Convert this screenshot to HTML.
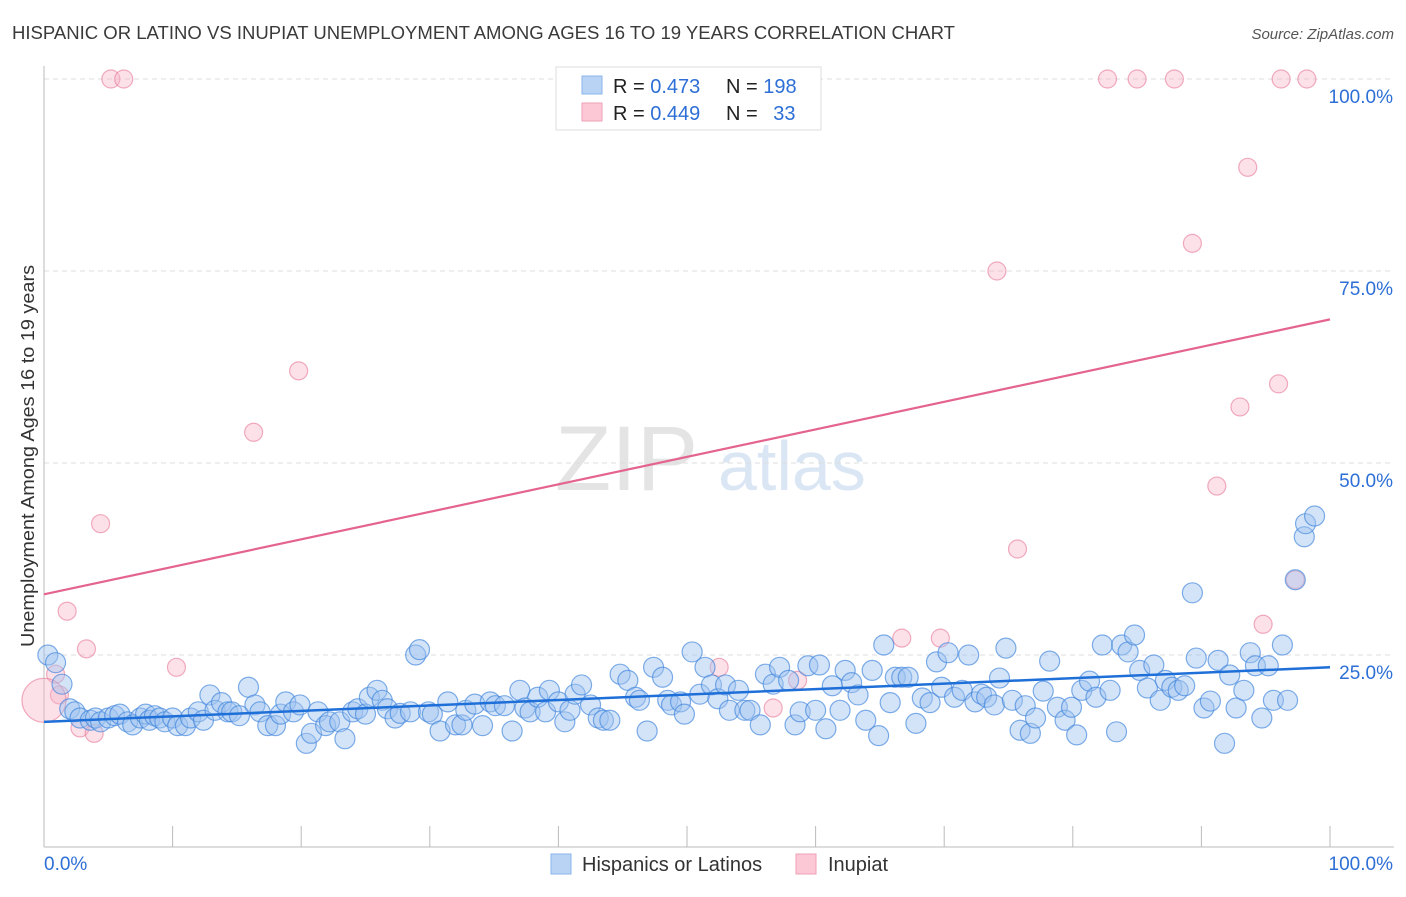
<!DOCTYPE html>
<html><head><meta charset="utf-8"><style>
body{margin:0;background:#fff;font-family:"Liberation Sans",sans-serif;}
svg text{font-family:"Liberation Sans",sans-serif;}
</style></head><body>
<svg id="chart" width="1406" height="892" xmlns="http://www.w3.org/2000/svg">
<text x="12" y="39" font-size="18" fill="#3a3a3a" textLength="943" lengthAdjust="spacingAndGlyphs">HISPANIC OR LATINO VS INUPIAT UNEMPLOYMENT AMONG AGES 16 TO 19 YEARS CORRELATION CHART</text>
<text x="1394" y="39" font-size="15" fill="#555" text-anchor="end" font-style="italic">Source: ZipAtlas.com</text>
<g><text x="555" y="490" font-size="92" fill="#e4e4e4" font-family="Liberation Serif">ZIP</text><text x="718" y="490" font-size="70" fill="#dbe6f5">atlas</text></g>
<g id="grid"></g><g id="axes"></g><g id="pts"></g><g id="lines"></g>
<text transform="translate(34,456) rotate(-90)" font-size="18" fill="#333" text-anchor="middle" textLength="382" lengthAdjust="spacingAndGlyphs">Unemployment Among Ages 16 to 19 years</text>
<g>
<rect x="556" y="67" width="265" height="63" fill="#fff" stroke="#ddd"/>
<rect x="582" y="76" width="20" height="18" fill="#b9d3f5" stroke="#8ab4ea"/>
<rect x="582" y="103" width="20" height="18" fill="#fcc8d6" stroke="#f0a0b6"/>
<text x="613" y="93" font-size="20" fill="#222">R = <tspan fill="#2d6fd6">0.473</tspan></text>
<text x="726" y="93" font-size="20" fill="#222">N = <tspan fill="#2d6fd6">198</tspan></text>
<text x="613" y="120" font-size="20" fill="#222">R = <tspan fill="#2d6fd6">0.449</tspan></text>
<text x="726" y="120" font-size="20" fill="#222">N = <tspan fill="#2d6fd6" dx="10">33</tspan></text>
</g>
<g>
<rect x="551" y="854" width="20" height="20" fill="#b9d3f5" stroke="#8ab4ea"/>
<text x="582" y="871" font-size="20" fill="#333">Hispanics or Latinos</text>
<rect x="796" y="854" width="20" height="20" fill="#fcc8d6" stroke="#f0a0b6"/>
<text x="828" y="871" font-size="20" fill="#333">Inupiat</text>
</g>
</svg>
<script>
const yTicks=[25,50,75,100];
const yTickLabels=["25.0%","50.0%","75.0%","100.0%"];
const blueX=[0.3,0.9,1.4,2.0,2.4,2.8,3.6,4.0,4.4,5.0,5.5,5.9,6.5,6.9,7.5,7.9,8.2,8.6,9.0,9.4,10.0,10.4,11.0,11.4,12.0,12.4,12.9,13.3,13.8,14.3,14.6,15.2,15.9,16.4,16.8,17.4,18.0,18.4,18.8,19.4,19.9,20.4,20.8,21.3,21.9,22.2,23.0,23.4,24.0,24.4,25.0,25.3,25.9,26.3,26.7,27.3,27.7,28.5,28.9,29.2,29.9,30.2,30.8,31.4,32.0,32.5,32.8,33.5,34.1,34.7,35.1,35.8,36.4,37.0,37.4,37.8,38.4,39.0,39.3,40.0,40.5,40.9,41.3,41.8,42.5,43.1,43.5,44.0,44.8,45.4,46.0,46.3,46.9,47.4,48.1,48.5,48.8,49.5,49.8,50.4,51.0,51.4,51.9,52.4,53.0,53.3,54.0,54.5,54.9,55.7,56.1,56.7,57.2,57.9,58.4,58.8,59.4,60.0,60.3,60.8,61.3,61.9,62.3,62.8,63.3,63.9,64.4,64.9,65.3,65.8,66.2,66.7,67.2,67.8,68.3,68.9,69.4,69.8,70.3,70.8,71.4,71.9,72.4,72.9,73.3,73.9,74.3,74.8,75.3,75.9,76.3,76.7,77.1,77.7,78.2,78.8,79.4,79.9,80.3,80.7,81.3,81.8,82.3,82.9,83.4,83.8,84.3,84.8,85.2,85.8,86.3,86.8,87.2,87.7,88.2,88.7,89.3,89.6,90.2,90.7,91.3,91.8,92.2,92.7,93.3,93.8,94.2,94.7,95.2,95.6,96.3,96.7,97.3,98.0,98.1,98.8];
const blueY=[25.0,24.0,21.2,18.0,17.6,16.8,16.5,16.8,16.3,16.8,17.1,17.3,16.3,15.9,16.8,17.3,16.5,17.1,16.8,16.3,16.8,15.8,15.8,16.8,17.6,16.5,19.8,17.8,18.8,17.6,17.6,17.1,20.8,18.5,17.6,15.8,15.8,17.3,18.9,17.6,18.5,13.5,14.8,17.6,15.8,16.3,16.3,14.1,17.6,18.0,17.3,19.5,20.4,19.1,18.0,16.8,17.4,17.6,25.0,25.7,17.6,17.3,15.1,18.9,15.9,15.9,17.8,18.6,15.8,18.9,18.4,18.4,15.1,20.4,18.1,17.6,19.5,17.6,20.4,18.9,16.3,17.8,19.9,21.1,18.5,16.8,16.5,16.5,22.5,21.7,19.5,19.1,15.1,23.4,22.1,19.1,18.5,18.9,17.3,25.4,19.9,23.4,21.1,19.3,21.1,17.8,20.4,17.8,17.8,15.9,22.5,21.2,23.4,21.7,15.9,17.6,23.6,17.8,23.7,15.4,21.0,17.8,23.0,21.4,19.8,16.5,23.0,14.5,26.3,18.8,22.1,22.1,22.1,16.1,19.4,18.8,24.1,20.8,25.3,19.5,20.4,25.0,18.9,19.9,19.5,18.5,22.0,25.9,19.1,15.2,18.4,14.8,16.8,20.3,24.2,18.2,16.5,18.2,14.6,20.4,21.6,19.5,26.3,20.4,15.0,26.3,25.4,27.6,23.0,20.7,23.7,19.1,21.7,20.8,20.4,21.0,33.1,24.6,18.1,19.0,24.3,13.5,22.4,18.1,20.4,25.3,23.6,16.8,23.6,19.1,26.3,19.1,34.8,40.4,42.1,43.1];
const pinkX=[5.2,6.2,82.7,85.0,87.9,96.2,98.2,93.6,89.3,74.1,19.8,16.3,96.0,93.0,91.2,75.7,4.4,97.3,1.8,3.3,94.8,10.3,66.7,69.7,52.5,58.6,56.7,0.9,1.2,2.8,3.9,0.0];
const pinkY=[100,100,100,100,100,100,100,88.5,78.6,75.0,62.0,54.0,60.3,57.3,47.0,38.8,42.1,34.8,30.7,25.8,29.0,23.4,27.2,27.2,23.4,21.7,18.1,22.5,19.8,15.5,14.8,19.1];
const pinkR=[9,9,9,9,9,9,9,9,9,9,9,9,9,9,9,9,9,9,9,9,9,9,9,9,9,9,9,9,9,9,9,22];
const blueTrend=[16.3,23.4];
const pinkTrend=[32.9,68.7];
const NS="http://www.w3.org/2000/svg";
const X0=44,X1=1330,Y0=847,Y100=79;
function sx(v){return X0+(X1-X0)*v/100;}
function sy(v){return Y0-(Y0-Y100)*v/100;}
function mk(t,a,p){const e=document.createElementNS(NS,t);for(const k in a)e.setAttribute(k,a[k]);p.appendChild(e);return e;}
const grid=document.getElementById('grid'),axes=document.getElementById('axes'),pts=document.getElementById('pts'),lines=document.getElementById('lines');
yTicks.forEach((t,i)=>{
  const g=mk('line',{x1:44,x2:1394,y1:sy(t),y2:sy(t),stroke:'#ddd','stroke-dasharray':'5,4'},grid);
  
  
  const l=mk('text',{x:1393,y:sy(t)+24,'font-size':19,fill:'#2d6fd6','text-anchor':'end'},axes);
  l.textContent=yTickLabels[i];
  
  
});
const ya=mk('line',{x1:44,x2:44,y1:66,y2:847,stroke:'#bbb'},axes);


const xa=mk('line',{x1:44,x2:1394,y1:847,y2:847,stroke:'#bbb'},axes);


for(let i=0;i<=10;i++){const t=mk('line',{x1:sx(i*10),x2:sx(i*10),y1:826,y2:847,stroke:'#bbb'},axes);
  
  }
const xl0=mk('text',{x:44,y:870,'font-size':19,fill:'#2d6fd6'},axes);xl0.textContent='0.0%';


const xl1=mk('text',{x:1393,y:870,'font-size':19,fill:'#2d6fd6','text-anchor':'end'},axes);xl1.textContent='100.0%';


pinkX.forEach((x,i)=>{const c=mk('circle',{cx:sx(x),cy:sy(pinkY[i]),r:pinkR[i],fill:'rgba(248,180,200,0.4)',stroke:'rgba(232,120,150,0.6)','stroke-width':1.2},pts);
  
  });
blueX.forEach((x,i)=>{const c=mk('circle',{cx:sx(x),cy:sy(blueY[i]),r:10,fill:'rgba(160,196,240,0.45)',stroke:'rgba(60,130,220,0.65)','stroke-width':1.2},pts);
  
  });
const bl=mk('line',{x1:sx(0),y1:sy(blueTrend[0]),x2:sx(100),y2:sy(blueTrend[1]),stroke:'#1f6fd8','stroke-width':2.5},lines);


const pl=mk('line',{x1:sx(0),y1:sy(pinkTrend[0]),x2:sx(100),y2:sy(pinkTrend[1]),stroke:'#e4648e','stroke-width':2.2},lines);


</script>
</body></html>
